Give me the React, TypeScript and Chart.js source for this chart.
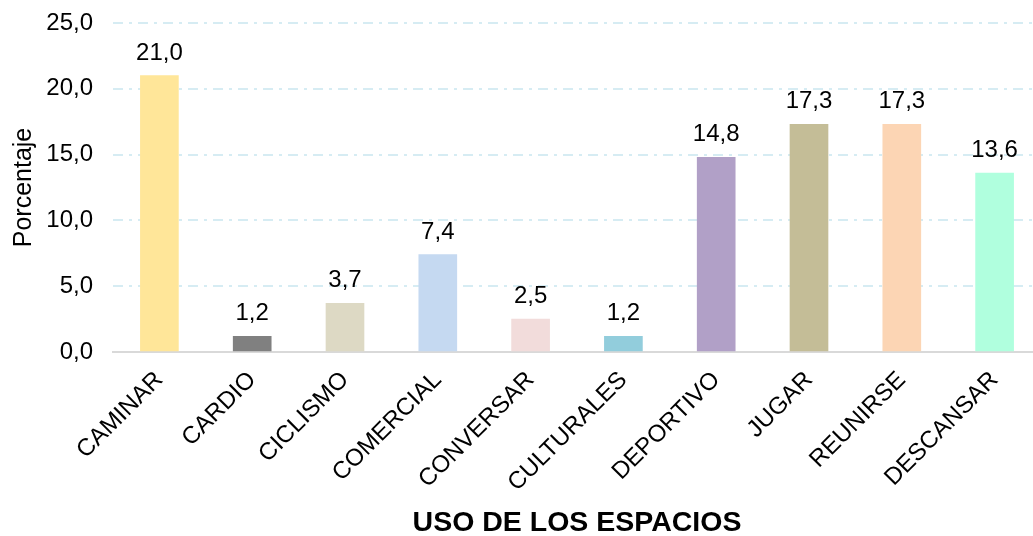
import React, { useEffect, useRef } from "react";
import { Chart, registerables } from "chart.js";

Chart.register(...registerables);

const categories = ["CAMINAR", "CARDIO", "CICLISMO", "COMERCIAL", "CONVERSAR", "CULTURALES", "DEPORTIVO", "JUGAR", "REUNIRSE", "DESCANSAR"];
const values = [21.0, 1.2, 3.7, 7.4, 2.5, 1.2, 14.8, 17.3, 17.3, 13.6];
const barColors = ["#FFE699", "#808080", "#DDD9C4", "#C5D9F1", "#F2DCDB", "#92CDDC", "#B1A0C7", "#C4BD97", "#FCD5B4", "#B0FFDE"];
const yTicks = [0, 5, 10, 15, 20, 25];
const yTitle = "Porcentaje";
const xTitle = "USO DE LOS ESPACIOS";

const FONT = "'Liberation Sans', Arial, sans-serif";

const fmt = (v: number) => v.toFixed(1).replace(".", ",");

const valueLabels = {
  id: "valueLabels",
  afterDatasetsDraw(chart: any) {
    const ctx = chart.ctx;
    const meta = chart.getDatasetMeta(0);
    ctx.save();
    ctx.font = `24px ${FONT}`;
    ctx.fillStyle = "#000";
    ctx.textAlign = "center";
    ctx.textBaseline = "alphabetic";
    meta.data.forEach((bar: any, i: number) => {
      ctx.fillText(fmt(values[i]), bar.x, bar.y - 16);
    });
    ctx.restore();
  },
};

export default function App() {
  const ref = useRef<HTMLCanvasElement>(null);
  useEffect(() => {
    if (!ref.current) return;
    const chart = new Chart(ref.current, {
      type: "bar",
      data: {
        labels: categories,
        datasets: [
          {
            data: values,
            backgroundColor: barColors,
            barThickness: 38,
          },
        ],
      },
      options: {
        animation: false,
        responsive: false,
        devicePixelRatio: 1,
        layout: { padding: { top: 23, left: 0, right: 0, bottom: 0 } },
        plugins: { legend: { display: false }, tooltip: { enabled: false } },
        scales: {
          x: {
            afterFit: (axis: any) => {
              axis.height = 184;
              axis.paddingLeft = 0;
              axis.paddingRight = 0;
            },
            grid: { display: false, drawTicks: false },
            border: { display: true, color: "#D9D9D9", width: 2 },
            ticks: {
              color: "#000",
              font: { family: FONT, size: 24 },
              minRotation: 45,
              maxRotation: 45,
              padding: 14,
            },
            title: {
              display: true,
              text: xTitle,
              color: "#000",
              font: { family: FONT, size: 28.5, weight: "bold" },
              padding: { top: 4, bottom: -4 },
            },
          },
          y: {
            min: 0,
            max: 25,
            afterFit: (axis: any) => {
              axis.width = 113;
              axis.paddingTop = 0;
              axis.paddingBottom = 0;
            },
            afterBuildTicks: (axis: any) => {
              axis.ticks = yTicks.map((v) => ({ value: v }));
            },
            grid: {
              color: (c: any) => (c.tick && c.tick.value === 0 ? "rgba(0,0,0,0)" : "#D6ECF3"),
              lineWidth: 2,
              drawTicks: false,
            },
            border: { display: false, dash: [10, 6, 3, 6] },
            ticks: {
              color: "#000",
              font: { family: FONT, size: 24 },
              padding: 20,
              callback: (v: any) => fmt(Number(v)),
            },
            title: {
              display: true,
              text: yTitle,
              color: "#000",
              font: { family: FONT, size: 25 },
              padding: { top: 9, bottom: 0 },
            },
          },
        },
      },
      plugins: [valueLabels],
    });
    return () => chart.destroy();
  }, []);
  return (
    <div style={{ position: "fixed", left: 0, top: 0, width: 1033, height: 536, overflow: "hidden", background: "#fff" }}>
      <canvas ref={ref} width={1041} height={536} style={{ display: "block" }} />
    </div>
  );
}
